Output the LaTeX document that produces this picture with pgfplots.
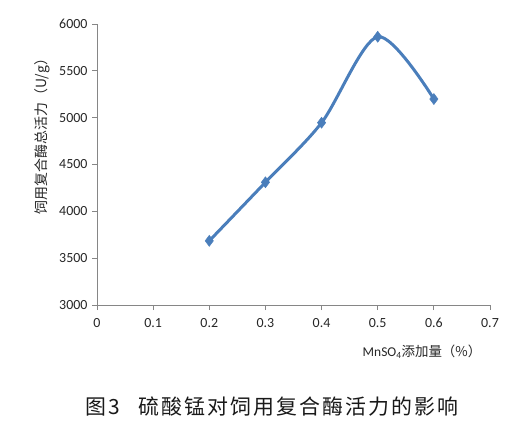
\documentclass[border=0pt]{standalone}
\usepackage{fontspec}
\setmainfont{Carlito}
\newfontfamily\cjk{Noto Sans CJK SC}
\newfontfamily\cjkcap[LetterSpace=10]{Noto Sans CJK SC}
\usepackage{pgfplots}
\pgfplotsset{compat=1.18}
\definecolor{excelblue}{RGB}{74,126,187}
\definecolor{axisgray}{RGB}{134,134,134}
\begin{document}
\begin{tikzpicture}[x=1bp,y=1bp]
\useasboundingbox (0,0) rectangle (530,429);
\begin{axis}[
  at={(97bp,124bp)}, anchor=origin,
  scale only axis, width=393bp, height=281bp,
  xmin=0, xmax=0.7, ymin=3000, ymax=6000,
  xtick={0,0.1,...,0.7}, ytick={3000,3500,...,6000},
  axis x line*=bottom, axis y line*=left,
  axis line style={axisgray, line width=0.8pt, -},
  tick style={axisgray, line width=0.8pt},
  tick align=outside, major tick length=5bp,
  xtick pos=bottom, ytick pos=left,
  /pgf/number format/assume math mode=true,
  /pgf/number format/.cd, fixed, 1000 sep={}, /pgfplots/.cd,
  xticklabel style={font=\fontsize{14}{14}\selectfont, text=black!85, yshift=-5bp},
  yticklabel style={font=\fontsize{14}{14}\selectfont, text=black!85, xshift=-1bp},
  clip=false,
]
\addplot[excelblue, line width=3bp, smooth, tension=0.5,
  mark=diamond*, mark size=5.5bp, mark options={solid, fill=excelblue, line width=0.5bp}]
  coordinates {(0.2,3685) (0.3,4310) (0.4,4946) (0.5,5864) (0.6,5199)};
\end{axis}
\node[rotate=90, font=\cjk\fontsize{14}{14}\selectfont, text=black!85] at (42,296) {饲用复合酶总活力（U/g）};
\node[font=\fontsize{13.5}{14}\selectfont, text=black!85] at (422,77) {MnSO\textsubscript{4}{\cjk 添加量（\%）}};
\node[font=\cjkcap\fontsize{21}{22}\selectfont, text=black!90] at (272,22) {图3\hspace{0.9em}硫酸锰对饲用复合酶活力的影响};
\end{tikzpicture}
\end{document}
